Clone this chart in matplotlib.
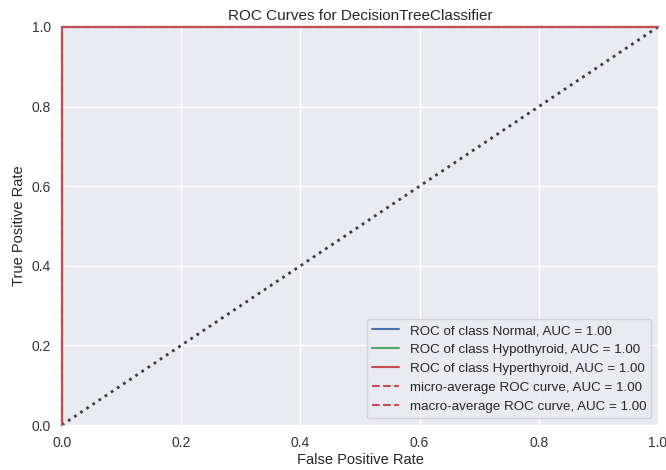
import matplotlib
matplotlib.use("Agg")
import matplotlib.pyplot as plt
import seaborn as sns

sns.set_theme(style="darkgrid")
plt.rcParams['font.family'] = ['Liberation Sans', 'DejaVu Sans']

classes = ["Normal", "Hypothyroid", "Hyperthyroid"]
fpr = {c: [0.0, 0.0, 1.0] for c in classes}
tpr = {c: [0.0, 1.0, 1.0] for c in classes}
auc = {"Normal": 1.00, "Hypothyroid": 1.00, "Hyperthyroid": 1.00}
micro_fpr = [0.0, 0.0, 1.0]
micro_tpr = [0.0, 1.0, 1.0]
micro_auc = 1.00
macro_fpr = [0.0, 0.0, 1.0]
macro_tpr = [0.0, 1.0, 1.0]
macro_auc = 1.00

colors = ["#4C72B0", "#55A868", "#C44E52"]

fig = plt.figure(figsize=(6.66, 4.70), dpi=100)
ax = fig.add_axes([0.093, 0.0957, 0.895, 0.847])
for sp in ax.spines.values():
    sp.set_visible(False)

for c, col in zip(classes, colors):
    ax.plot(fpr[c], tpr[c], color=col, lw=1.5, clip_on=False, zorder=3,
            label=f"ROC of class {c}, AUC = {auc[c]:.2f}")
ax.plot(micro_fpr, micro_tpr, color="#C44E52", lw=1.5, linestyle="--",
        clip_on=False, zorder=3,
        label=f"micro-average ROC curve, AUC = {micro_auc:.2f}")
ax.plot(macro_fpr, macro_tpr, color="#C44E52", lw=1.5, linestyle="--",
        clip_on=False, zorder=3,
        label=f"macro-average ROC curve, AUC = {macro_auc:.2f}")
ax.plot([0, 1], [0, 1], linestyle=":", color="#111111", alpha=0.8, lw=2)

ax.set_xlim(0, 1)
ax.set_ylim(0, 1)
ax.set_title("ROC Curves for DecisionTreeClassifier", fontsize=11, pad=5)
ax.set_xlabel("False Positive Rate", fontsize=10.5, labelpad=2)
ax.set_ylabel("True Positive Rate", fontsize=10.5, labelpad=4)
ax.tick_params(labelsize=10, pad=2, labelcolor="#333333")
ax.legend(loc="lower right", frameon=True, fontsize=9.6)

fig.savefig("out.png", dpi=100)
